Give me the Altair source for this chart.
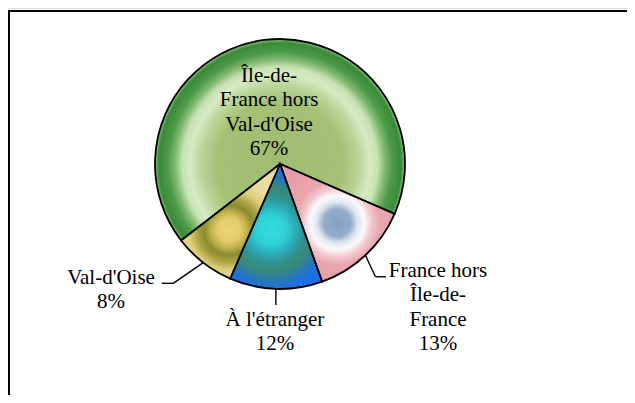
import math
import altair as alt
import pandas as pd

# ---- data ----
categories = ["Île-de-France hors Val-d'Oise", "France hors Île-de-France",
              "À l'étranger", "Val-d'Oise"]
label_lines = [["Île-de-", "France hors", "Val-d'Oise"],
               ["France hors", "Île-de-", "France"],
               ["À l'étranger"],
               ["Val-d'Oise"]]
shares = [67, 13, 12, 8]

df = pd.DataFrame({
    "cat": categories,
    "share": shares,
    "idx": list(range(len(categories))),
    "lbl": ["|".join(l) for l in label_lines],
})

# ---- layout / style ----
W, H = 619, 387
CX, CY, R = 272, 156, 125
S = math.radians(-127.7)
FONT = "'Liberation Serif', 'Times New Roman', serif"

xs = alt.Scale(domain=[0, W], range=[0, W])
ys = alt.Scale(domain=[0, H], range=[0, H])

base = alt.Chart(df).transform_window(
    end="sum(share)", sort=[alt.SortField("idx")], frame=[None, 0]
).transform_calculate(
    start="datum.end - datum.share",
    mid="(datum.start + datum.end) / 2",
    ang=f"{S} + datum.mid / 100 * 2 * PI",
    ex=f"{CX} + {R} * sin(datum.ang)",
    ey=f"{CY} - {R} * cos(datum.ang)",
    txt="split(datum.lbl + '|' + datum.share + '%', '|')",
)

theta_scale = alt.Scale(domain=[0, 100], range=[S, S + 2 * math.pi])


def grad(cx, cy, r, stops):
    return alt.RadialGradient(
        gradient="radial", x1=cx, y1=cy, r1=0, x2=cx, y2=cy, r2=r,
        stops=[alt.GradientStop(offset=o, color=c) for o, c in stops])


fills = {
    categories[0]: grad(0.5, 0.598, 0.5, [
        (0.0, "#a0bc70"), (0.5, "#a4c074"), (0.62, "#b8d496"),
        (0.72, "#d6ebc4"), (0.78, "#c8e2b2"), (0.84, "#80b870"),
        (0.9, "#4a9a46"), (0.97, "#3a8a38"), (1.0, "#8cc080")]),
    categories[1]: grad(0.5, 0.5, 0.58, [
        (0.0, "#86a0c4"), (0.2, "#94acca"), (0.3, "#e0e6f0"),
        (0.4, "#fafafa"), (0.5, "#f2c8ce"), (0.62, "#eaa6ae"),
        (1.0, "#e69ca4")]),
    categories[2]: grad(0.46, 0.528, 0.7, [
        (0.0, "#34dcdc"), (0.17, "#30d0d6"), (0.28, "#2cacb8"),
        (0.38, "#2e9290"), (0.47, "#3a8a78"), (0.56, "#2c7ca8"),
        (0.64, "#2272d4"), (0.72, "#1a6eea"), (1.0, "#1a6eea")]),
    categories[3]: grad(0.487, 0.576, 0.72, [
        (0.0, "#ecd474"), (0.14, "#e4cc6a"), (0.22, "#c0b24c"),
        (0.3, "#8a8c30"), (0.38, "#a8a040"), (0.48, "#dccc78"),
        (0.6, "#e8dca0"), (1.0, "#e8dca0")]),
}

layers = []

# frame (top and left edges visible; the rest runs outside the picture)
frame = alt.Chart(pd.DataFrame({"a": [0]})).mark_rect(
    fill="transparent", stroke="black", strokeWidth=2
).encode(x=alt.value(1), x2=alt.value(W + 60), y=alt.value(3), y2=alt.value(H + 60))
layers.append(frame)

# slices
for c in categories:
    layers.append(
        base.transform_filter(alt.datum.cat == c).mark_arc(
            radius=R, fill=fills[c], stroke="black", strokeWidth=1.8
        ).encode(
            theta=alt.Theta("start:Q", scale=theta_scale),
            theta2="end:Q",
            x=alt.value(CX), y=alt.value(CY),
        )
    )

# leader lines: relative points from each slice's edge point
leaders = {
    categories[1]: [(0, 0), (10, 21.5), (20.5, 21.5)],
    categories[2]: [(0, 0), (0, 16)],
    categories[3]: [(0, 0), (-30, 20.7), (-41.5, 20.7)],
}
for c, pts in leaders.items():
    for (ax, ay), (bx, by) in zip(pts[:-1], pts[1:]):
        layers.append(
            base.transform_filter(alt.datum.cat == c).transform_calculate(
                x1=f"datum.ex + {ax}", y1=f"datum.ey + {ay}",
                x2=f"datum.ex + {bx}", y2=f"datum.ey + {by}",
            ).mark_rule(color="black", strokeWidth=1.4).encode(
                x=alt.X("x1:Q", scale=xs, axis=None),
                y=alt.Y("y1:Q", scale=ys, axis=None),
                x2="x2:Q", y2="y2:Q",
            )
        )

# labels (offset of first-line baseline from the slice's edge point)
label_off = {
    categories[0]: (4.5, 42),
    categories[1]: (72.6, 21.7),
    categories[2]: (-0.9, 37),
    categories[3]: (-92.2, 21.4),
}
for c, (ox, oy) in label_off.items():
    layers.append(
        base.transform_filter(alt.datum.cat == c).mark_text(
            font=FONT, fontSize=21, lineHeight=24.3, align="center",
            baseline="alphabetic", color="black", dx=ox, dy=oy,
        ).encode(
            x=alt.X("ex:Q", scale=xs, axis=None),
            y=alt.Y("ey:Q", scale=ys, axis=None),
            text=alt.Text("txt:N"),
        )
    )

chart = alt.layer(*layers).properties(
    width=W, height=H,
    autosize=alt.AutoSizeParams(type="none"),
    padding=0,
).configure_view(stroke=None).configure(background="white")

chart.save("out.html", embed_options={"renderer": "svg", "actions": False})
